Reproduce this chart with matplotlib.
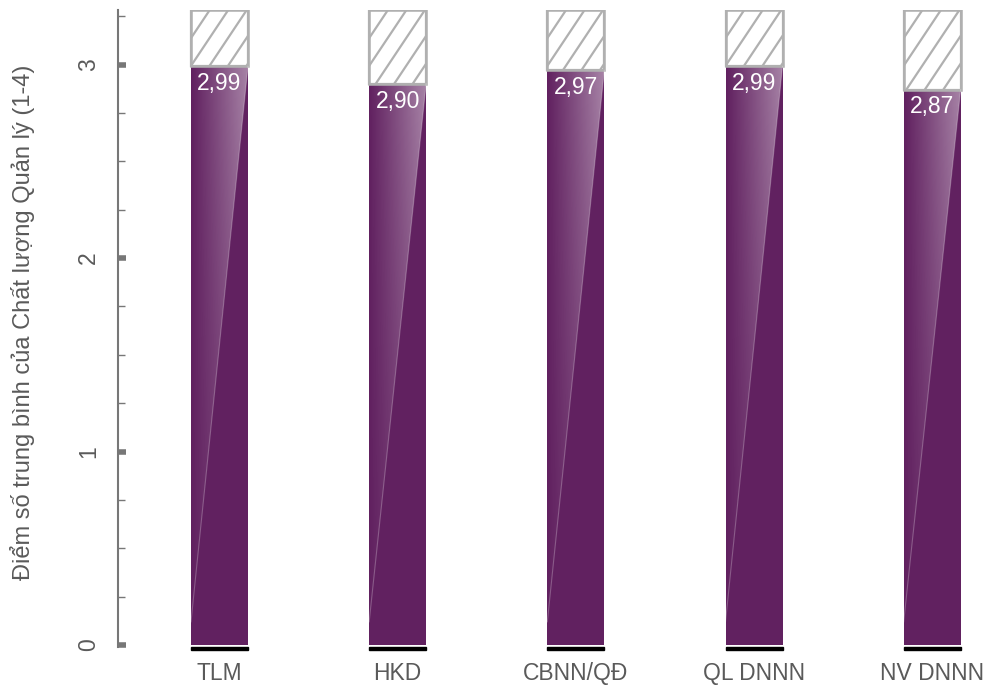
import numpy as np
import matplotlib.pyplot as plt
from matplotlib.patches import Polygon, Rectangle
from matplotlib.ticker import MultipleLocator

plt.rcParams['font.family'] = ['Liberation Sans', 'DejaVu Sans']

groups = ['TLM', 'HKD', 'CBNN/QĐ', 'QL DNNN', 'NV DNNN']
scores = [2.99, 2.90, 2.97, 2.99, 2.87]
labels = ['2,99', '2,90', '2,97', '2,99', '2,87']
y_top = 3.28

BAR = '#612160'
GREY = '#5a5a5a'
HATCH = '#b0b0b0'

XLIM = (-0.57, 4.23)
YLIM = (-0.01, y_top)
AX_RECT = [0.12, 0.061, 0.87, 0.924]
FIG_W, FIG_H = 983, 689


def sheen(ax, x0, x1, top):
    # light diagonal sheen over the upper left of each bar
    nx, ny = 60, 200
    xs = np.linspace(0, 1, nx)[None, :]
    ys = np.linspace(0, 1, ny)[:, None]
    alpha = 0.45 * xs * (0.45 + 0.55 * ys)
    img = np.ones((ny, nx, 4))
    img[..., 3] = alpha
    im = ax.imshow(img, extent=[x0, x1, 0, top], origin='lower',
                   aspect='auto', zorder=3, interpolation='bilinear')
    poly = Polygon([(x0, top), (x1, top), (x0, 0.12)], closed=True,
                   transform=ax.transData, facecolor='none', edgecolor='none')
    im.set_clip_path(poly)
    ax.plot([x1, x0], [top, 0.12], color='white', alpha=0.25, lw=0.8, zorder=4)


def hatch_box(ax, x0, x1, y0, y1):
    # white box with steep diagonal lines, grey border
    px_x = AX_RECT[2] * FIG_W / (XLIM[1] - XLIM[0])
    px_y = AX_RECT[3] * FIG_H / (YLIM[1] - YLIM[0])
    box = Rectangle((x0, y0), x1 - x0, y1 - y0, facecolor='white',
                    edgecolor=HATCH, lw=1.6, zorder=3)
    ax.add_patch(box)
    h = (y1 - y0) * px_y
    step = 18.5
    slope = 1.5
    for c in np.arange(-h / slope - step, (x1 - x0) * px_x + step, step):
        xa = x0 + c / px_x
        xb = x0 + (c + h / slope) / px_x
        ln, = ax.plot([xa, xb], [y0, y1], color=HATCH, lw=1.6, zorder=3)
        ln.set_clip_path(box)
    ax.add_patch(Rectangle((x0, y0), x1 - x0, y1 - y0, facecolor='none',
                           edgecolor=HATCH, lw=1.8, zorder=4))


def main():
    fig = plt.figure(figsize=(FIG_W / 100, FIG_H / 100), dpi=100)
    ax = fig.add_axes(AX_RECT)
    x = np.arange(len(groups))
    w = 0.32

    ax.bar(x, scores, width=w, color=BAR, zorder=2)
    for xi, s, lab in zip(x, scores, labels):
        hatch_box(ax, xi - w / 2, xi + w / 2, s, y_top)
        sheen(ax, xi - w / 2, xi + w / 2, s)
        ax.add_patch(Rectangle((xi - w / 2, -0.028), w, 0.02, color='black',
                               clip_on=False, zorder=5))
        ax.text(xi, s - 0.03, lab, ha='center', va='top', color='white',
                fontsize=16.5, zorder=6)

    ax.set_xlim(*XLIM)
    ax.set_ylim(*YLIM)
    for sp in ['top', 'right', 'bottom']:
        ax.spines[sp].set_visible(False)
    ax.spines['left'].set_color('#777777')
    ax.spines['left'].set_linewidth(1.5)

    ax.set_xticks(x)
    ax.set_xticklabels(groups, fontsize=16.5, color=GREY)
    ax.tick_params(axis='x', length=0, pad=11)

    ax.yaxis.set_major_locator(MultipleLocator(1))
    ax.yaxis.set_minor_locator(MultipleLocator(0.25))
    ax.tick_params(axis='y', which='major', direction='in', length=6,
                   width=4, color='#777777', labelsize=16.5, labelcolor=GREY,
                   pad=13, labelrotation=90)
    ax.tick_params(axis='y', which='minor', direction='in', length=5,
                   width=1, color='#777777')
    for t in ax.get_yticklabels():
        t.set_va('center')
    ax.set_ylabel('Điểm số trung bình của Chất lượng Quản lý (1-4)',
                  fontsize=17, color=GREY)
    ax.yaxis.set_label_coords(-0.097, 0.51)

    fig.savefig('out.png', dpi=100)


if __name__ == '__main__':
    main()
